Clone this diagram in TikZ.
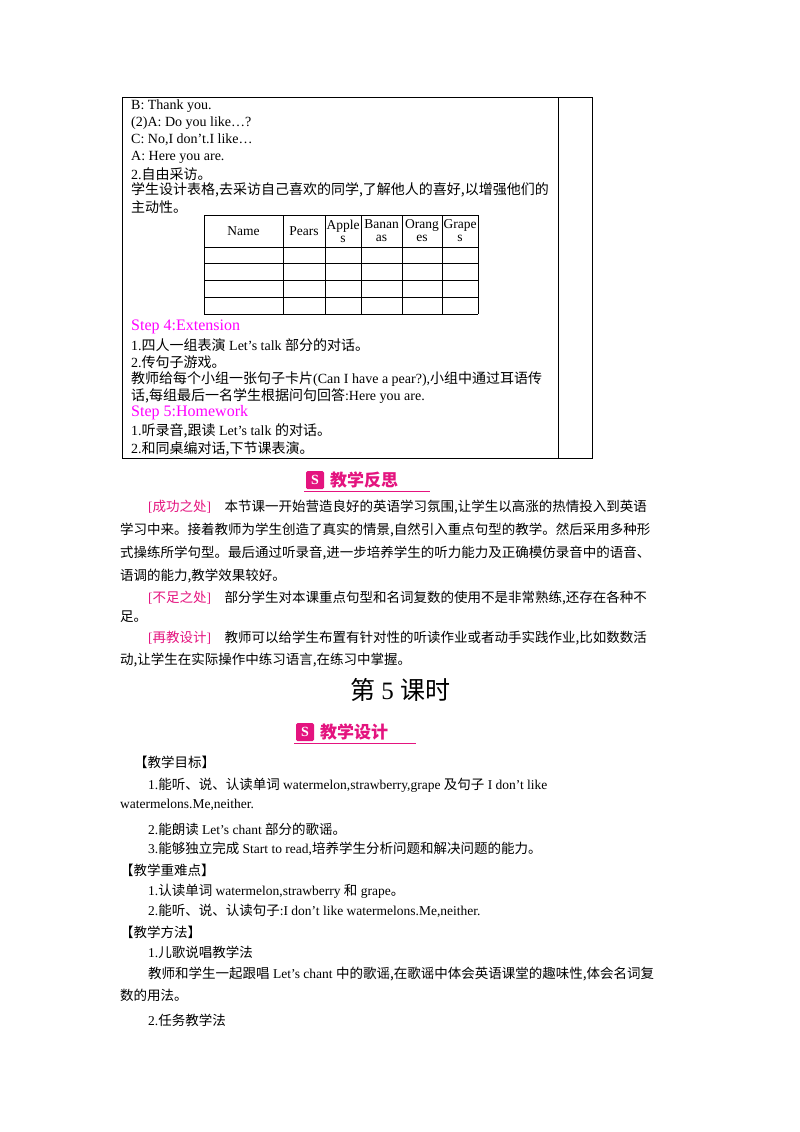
\documentclass[tikz,border=0pt]{standalone}
\usepackage{fontspec}
\setmainfont{Liberation Serif}
\newfontfamily\cjk{Noto Sans CJK SC}
\newcommand{\z}[1]{{\cjk #1}}
\definecolor{mag}{HTML}{FF00FF}
\definecolor{pk}{HTML}{E4147F}
\begin{document}
\begin{tikzpicture}[x=1pt,y=-1pt,
  ln/.style={anchor=west,inner sep=0pt,font=\fontsize{14}{15}\selectfont},
  pl/.style={anchor=west,inner sep=0pt,font=\fontsize{13.5}{15}\selectfont},
  st/.style={ln,text=mag,font=\fontsize{16}{16}\selectfont},
  hd/.style={inner sep=0pt,align=center,font=\fontsize{13.5}{13}\selectfont}]
\useasboundingbox (0,0) rectangle (800,1132);
% outer table
\draw[line width=0.8pt] (122,97) rectangle (592,458);
\draw[line width=0.8pt] (558,97) -- (558,458);
\node[ln] (l1) at (131,106) {B: Thank you.};
\node[ln] (l2) at (131,123) {(2)A: Do you like…?};
\node[ln] (l3) at (131,140) {C: No,I don’t.I like…};
\node[ln] (l4) at (131,157) {A: Here you are.};
\node[ln] (l5) at (131,174) {2.\z{自由采访。}};
\node[ln] (l6) at (131,190) {\z{学生设计表格,去采访自己喜欢的同学,了解他人的喜好,以增强他们的}};
\node[ln] (l7) at (131,207) {\z{主动性。}};
% inner table
\foreach \x in {204,283,325,361,402,442,478} \draw (\x,215) -- (\x,314);
\foreach \y in {215,247,263,280,297,314} \draw (204,\y) -- (478,\y);
\node[hd] (h1) at (243.5,231) {Name};
\node[hd] (h2) at (304,231) {Pears};
\node[hd] (h3) at (343,231) {Apple\\s};
\node[hd] (h4) at (381.5,231) {Banan\\as};
\node[hd] (h5) at (422,231) {Orang\\es};
\node[hd] (h6) at (460,231) {Grape\\s};
\node[st] (s4) at (131,327) {Step 4:Extension};
\node[ln] (l8) at (131,345) {1.\z{四人一组表演} Let’s talk \z{部分的对话。}};
\node[ln] (l9) at (131,362) {2.\z{传句子游戏。}};
\node[ln] (l10) at (131,379) {\z{教师给每个小组一张句子卡片}(Can I have a pear?),\z{小组中通过耳语传}};
\node[ln] (l11) at (131,396) {\z{话,每组最后一名学生根据问句回答}:Here you are.};
\node[st] (s5) at (131,413) {Step 5:Homework};
\node[ln] (l12) at (131,431) {1.\z{听录音,跟读} Let’s talk \z{的对话。}};
\node[ln] (l13) at (131,449) {2.\z{和同桌编对话,下节课表演。}};
% banner 1
\fill[pk,rounded corners=1.5pt] (306,471) rectangle (324,489);
\node[text=white,font=\bfseries\fontsize{14}{14}\selectfont,inner sep=0pt] (i1) at (315,480) {S};
\node[anchor=west,inner sep=0pt,text=pk,font=\cjk\bfseries\fontsize{17}{17}\selectfont] (b1) at (330,480) {教学反思};
\draw[pk,line width=0.8pt] (304,491.5) -- (430,491.5);
% paragraphs
\node[pl] (p1) at (148,507) {\textcolor{pk}{[\z{成功之处}]}\quad \z{本节课一开始营造良好的英语学习氛围,让学生以高涨的热情投入到英语}};
\node[pl] (p2) at (120,530) {\z{学习中来。接着教师为学生创造了真实的情景,自然引入重点句型的教学。然后采用多种形}};
\node[pl] (p3) at (120,553) {\z{式操练所学句型。最后通过听录音,进一步培养学生的听力能力及正确模仿录音中的语音、}};
\node[pl] (p4) at (120,576) {\z{语调的能力,教学效果较好。}};
\node[pl] (p5) at (148,598) {\textcolor{pk}{[\z{不足之处}]}\quad \z{部分学生对本课重点句型和名词复数的使用不是非常熟练,还存在各种不}};
\node[pl] (p6) at (120,617) {\z{足。}};
\node[pl] (p7) at (148,638) {\textcolor{pk}{[\z{再教设计}]}\quad \z{教师可以给学生布置有针对性的听读作业或者动手实践作业,比如数数活}};
\node[pl] (p8) at (120,660) {\z{动,让学生在实际操作中练习语言,在练习中掌握。}};
\node[inner sep=0pt,font=\fontsize{25}{27}\selectfont] (t) at (400,690) {\z{第} 5 \z{课时}};
% banner 2
\fill[pk,rounded corners=1.5pt] (296,723) rectangle (314,741);
\node[text=white,font=\bfseries\fontsize{14}{14}\selectfont,inner sep=0pt] (i2) at (305,732) {S};
\node[anchor=west,inner sep=0pt,text=pk,font=\cjk\bfseries\fontsize{17}{17}\selectfont] (b2) at (320,732) {教学设计};
\draw[pk,line width=0.8pt] (294,743.5) -- (416,743.5);
\node[pl] (q1) at (134,762) {\z{【教学目标】}};
\node[pl] (q2) at (148,785) {1.\z{能听、说、认读单词} watermelon,strawberry,grape \z{及句子} I don’t like};
\node[pl] (q3) at (120,805) {watermelons.Me,neither.};
\node[pl] (q4) at (148,829) {2.\z{能朗读} Let’s chant \z{部分的歌谣。}};
\node[pl] (q5) at (148,849) {3.\z{能够独立完成} Start to read,\z{培养学生分析问题和解决问题的能力。}};
\node[pl] (q6) at (120,870) {\z{【教学重难点】}};
\node[pl] (q7) at (148,891) {1.\z{认读单词} watermelon,strawberry \z{和} grape\z{。}};
\node[pl] (q8) at (148,911) {2.\z{能听、说、认读句子}:I don’t like watermelons.Me,neither.};
\node[pl] (q9) at (120,932) {\z{【教学方法】}};
\node[pl] (q10) at (148,952) {1.\z{儿歌说唱教学法}};
\node[pl] (q11) at (148,974) {\z{教师和学生一起跟唱} Let’s chant \z{中的歌谣,在歌谣中体会英语课堂的趣味性,体会名词复}};
\node[pl] (q12) at (120,995) {\z{数的用法。}};
\node[pl] (q13) at (148,1020) {2.\z{任务教学法}};
\end{tikzpicture}
\end{document}
